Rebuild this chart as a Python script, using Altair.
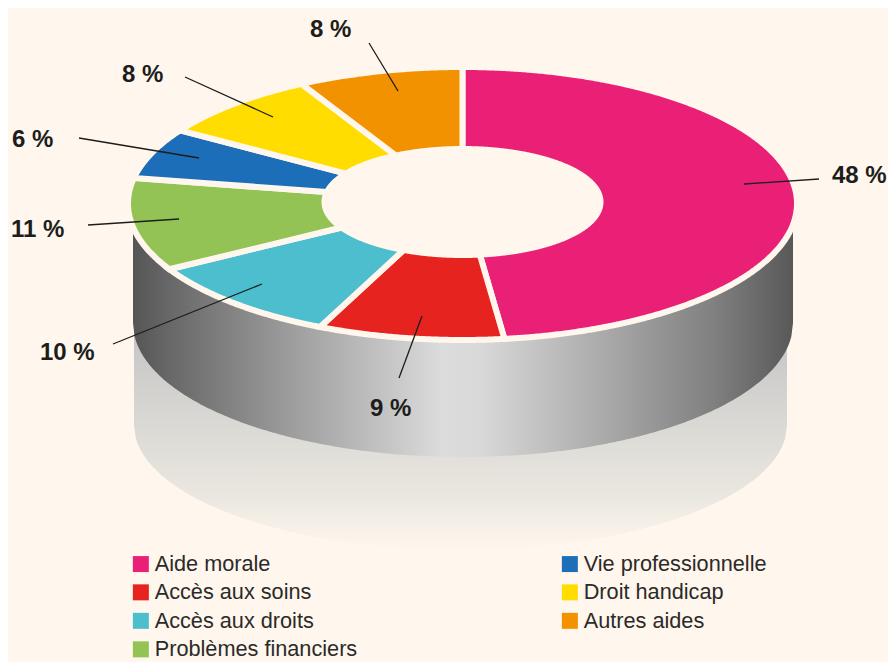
import numpy as np
import altair as alt

# --- data ---
categories = ["Aide morale", "Accès aux soins", "Accès aux droits", "Problèmes financiers",
              "Vie professionnelle", "Droit handicap", "Autres aides"]
shares = [48, 9, 10, 11, 6, 8, 8]
colors = ["#EA2076", "#E6231F", "#4CBECE", "#94C355", "#1B6EB7", "#FFDD00", "#F39200"]
label_text = ["48 %", "9 %", "10 %", "11 %", "6 %", "8 %", "8 %"]
label_x = [832, 370, 40, 11, 12, 122, 310]
label_y = [176, 409, 353, 230, 140, 75, 30]
line_x1 = [819, 399, 113, 88, 79, 185, 369]
line_y1 = [179, 378, 344, 225, 138, 77, 43]
line_x2 = [744, 422, 262, 179, 199, 273, 398]
line_y2 = [184, 316, 284, 219, 158, 117, 91]

BG = "#FFF7ED"
W, H = 880, 654
CX, CY, RX, RY = 462.5, 203.5, 334.5, 136.5      # top face
HY, HRX, HRY = 202.0, 138.0, 53.0                # hole
WX, WY, WRX, WRY = 463.0, 323.0, 330.0, 134.0    # lower rim of the wall
SX, SY, SRX, SRY = 460.5, 425.0, 326.5, 125.0    # pale reflection


def slice_feature(name, start, end):
    n = max(int((end - start) * 3), 12)
    t = np.radians(np.linspace(start, end, n))
    outer = [[float(CX + RX * np.sin(a)), float(CY - RY * np.cos(a))] for a in t]
    inner = [[float(CX + HRX * np.sin(a)), float(HY - HRY * np.cos(a))] for a in t[::-1]]
    ring = outer + inner + [outer[0]]
    return {"type": "Feature", "name": name,
            "geometry": {"type": "Polygon", "coordinates": [ring]}, "properties": {}}


features, cum = [], 0.0
for cat, s in zip(categories, shares):
    features.append(slice_feature(cat, cum * 3.6, (cum + s) * 3.6))
    cum += s

t = np.linspace(-1, 1, 241)
t = np.sign(t) * np.abs(t) ** 0.6
half = np.sqrt(1 - t ** 2)
wall = [{"x": float(WX + WRX * a),
         "y": float(WY + WRY * b),
         "y2": float(CY + RY * np.sqrt(max(0.0, 1 - ((WX + WRX * a - CX) / RX) ** 2)))}
        for a, b in zip(t, half)]
shade = [{"x": float(SX + SRX * a), "y": float(SY + SRY * b), "y2": 320.0}
         for a, b in zip(t, half)]

xs = alt.Scale(domain=[8, 8 + W], nice=False, zero=False)
ys = alt.Scale(domain=[8 + H, 8], nice=False, zero=False)
X = lambda f: alt.X(f, type="quantitative", scale=xs, axis=None)
Y = lambda f: alt.Y(f, type="quantitative", scale=ys, axis=None)

shade_grad = alt.LinearGradient(gradient="linear", x1=0, y1=0, x2=0, y2=1, stops=[
    alt.GradientStop(offset=0, color="#B8B8B8"),
    alt.GradientStop(offset=0.12, color="#C8C8C8"),
    alt.GradientStop(offset=0.48, color="#DCDAD5"),
    alt.GradientStop(offset=0.78, color="#EBE8E1"),
    alt.GradientStop(offset=1, color=BG)])
wall_grad = alt.LinearGradient(gradient="linear", x1=0, y1=0, x2=1, y2=0, stops=[
    alt.GradientStop(offset=0, color="#555555"),
    alt.GradientStop(offset=0.05, color="#666666"),
    alt.GradientStop(offset=0.25, color="#A0A0A0"),
    alt.GradientStop(offset=0.47, color="#DCDCDC"),
    alt.GradientStop(offset=0.53, color="#D8D8D8"),
    alt.GradientStop(offset=0.72, color="#A8A8A8"),
    alt.GradientStop(offset=0.88, color="#808080"),
    alt.GradientStop(offset=1, color="#585858")])

shade_layer = alt.Chart(alt.Data(values=shade)).mark_area(color=shade_grad, opacity=1).encode(
    x=X("x"), y=Y("y"), y2=alt.Y2("y2"))
wall_layer = alt.Chart(alt.Data(values=wall)).mark_area(color=wall_grad, opacity=1).encode(
    x=X("x"), y=Y("y"), y2=alt.Y2("y2"))

slices = alt.Chart(alt.Data(values=features)).mark_geoshape(
    stroke=BG, strokeWidth=6, strokeJoin="miter", opacity=1
).encode(
    color=alt.Color("name:N",
                    scale=alt.Scale(domain=categories, range=colors),
                    legend=alt.Legend(title=None, orient="none", legendX=122, legendY=545,
                                      columns=2, columnPadding=201, rowPadding=5.5,
                                      symbolType="square", symbolSize=256, symbolStrokeWidth=0,
                                      symbolOpacity=1, labelFontSize=21.7, labelFont="Liberation Sans",
                                      labelColor="#2b2a29", labelOffset=3, labelLimit=400, padding=0))
).project(type="identity", scale=1, translate=[-8, -8])

lines = alt.Chart(alt.Data(values=[
    {"x": a, "y": b, "x2": c, "y2": d}
    for a, b, c, d in zip(line_x1, line_y1, line_x2, line_y2)])
).mark_rule(color="#1d1d1b", strokeWidth=1.3).encode(
    x=X("x"), y=Y("y"), x2=alt.X2("x2"), y2=alt.Y2("y2"))

labels = alt.Chart(alt.Data(values=[
    {"x": a, "y": b, "t": c} for a, b, c in zip(label_x, label_y, label_text)])
).mark_text(font="Liberation Sans", fontWeight="bold", fontSize=24, color="#1d1d1b",
            align="left", baseline="middle").encode(
    x=X("x"), y=Y("y"), text="t:N")

chart = alt.layer(shade_layer, wall_layer, slices, lines, labels).properties(
    width=W, height=H, background=BG, padding=0,
    autosize=alt.AutoSizeParams(type="none")
).configure_view(stroke=None)

chart.save("out.html", embed_options={"renderer": "svg", "actions": False})
